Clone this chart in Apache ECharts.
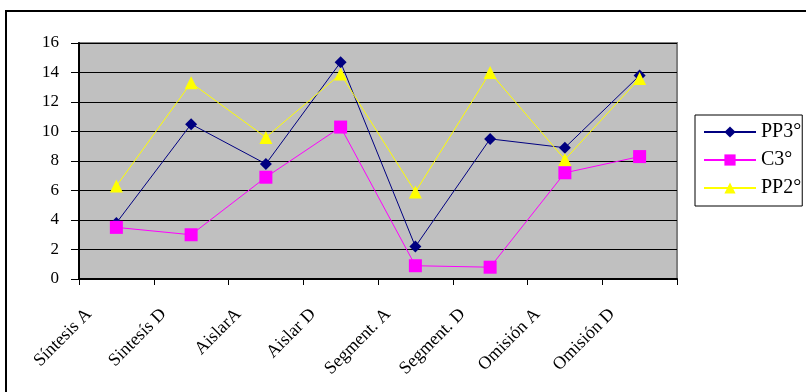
<!DOCTYPE html>
<html>
<head>
<meta charset="utf-8">
<script src="https://cdn.jsdelivr.net/npm/echarts@6/dist/echarts.min.js"></script>
<style>
  html, body { margin: 0; padding: 0; background: #fff; }
  #chart { width: 806px; height: 392px; }
</style>
</head>
<body>
<div id="chart"></div>
<script>
// Task categories along the x axis
const categories = ['Síntesis A', 'Sintesís D', 'AislarA', 'Aislar D', 'Segment. A', 'Segment. D', 'Omisión A', 'Omisión D'];

// Scores per group
const pp3 = [3.8, 10.5, 7.8, 14.7, 2.2, 9.5, 8.9, 13.8];
const c3  = [3.5, 3.0, 6.9, 10.3, 0.9, 0.8, 7.2, 8.3];
const pp2 = [6.3, 13.3, 9.6, 13.9, 5.9, 14.0, 8.1, 13.6];

const seriesNames = ['PP3°', 'C3°', 'PP2°'];

const FONT = '"Liberation Serif", "Times New Roman", serif';

const chart = echarts.init(document.getElementById('chart'), null, { renderer: 'canvas' });

function lineSeries(name, data, color, symbol, size) {
  return {
    name: name,
    type: 'line',
    data: data,
    symbol: symbol,
    symbolSize: size,
    showAllSymbol: true,
    lineStyle: { color: color, width: 1 },
    itemStyle: { color: color, borderWidth: 0 },
    emphasis: { disabled: true },
    animation: false
  };
}

chart.setOption({
  animation: false,
  backgroundColor: '#fff',
  textStyle: { fontFamily: FONT },
  graphic: [{
    type: 'rect',
    shape: { x: 6, y: 11, width: 900, height: 500 },
    style: { fill: 'none', stroke: '#000', lineWidth: 2 },
    z: -1,
    silent: true
  }],
  grid: {
    left: 79, top: 43, right: 129, bottom: 113,
    show: true,
    backgroundColor: '#C0C0C0',
    borderColor: '#808080',
    borderWidth: 2
  },
  legend: {
    left: 695, top: 115,
    orient: 'vertical',
    data: seriesNames,
    itemWidth: 52,
    itemHeight: 14,
    itemGap: 8,
    itemTextGap: 4,
    padding: [7, 1, 8, 8],
    borderColor: '#000',
    borderWidth: 1,
    borderRadius: 0,
    textStyle: { fontFamily: FONT, fontSize: 20, lineHeight: 20, color: '#000' }
  },
  xAxis: {
    type: 'category',
    data: categories,
    boundaryGap: true,
    axisLine: { show: true, lineStyle: { color: '#000', width: 2 } },
    axisTick: { show: true, alignWithLabel: false, length: 6, lineStyle: { color: '#000', width: 1 } },
    axisLabel: {
      interval: 0,
      rotate: 45,
      margin: 5,
      color: '#000',
      fontFamily: FONT,
      fontSize: 18,
      formatter: function (v) { return '{t|' + v + '}{s| }'; },
      rich: {
        t: { fontFamily: FONT, fontSize: 18, color: '#000' },
        s: { width: 39, fontSize: 18 }
      }
    },
    splitLine: { show: false }
  },
  yAxis: {
    type: 'value',
    min: 0, max: 16, interval: 2,
    axisLine: { show: true, lineStyle: { color: '#000', width: 2 } },
    axisTick: { show: true, length: 8, lineStyle: { color: '#000', width: 1 } },
    axisLabel: { color: '#000', fontFamily: FONT, fontSize: 17, margin: 20 },
    splitLine: { show: true, lineStyle: { color: '#000', width: 1 } }
  },
  series: [
    lineSeries('PP3°', pp3, '#000080', 'diamond', 12),
    lineSeries('C3°', c3, '#FF00FF', 'rect', 13),
    lineSeries('PP2°', pp2, '#FFFF00', 'triangle', 13)
  ]
});
</script>
</body>
</html>
